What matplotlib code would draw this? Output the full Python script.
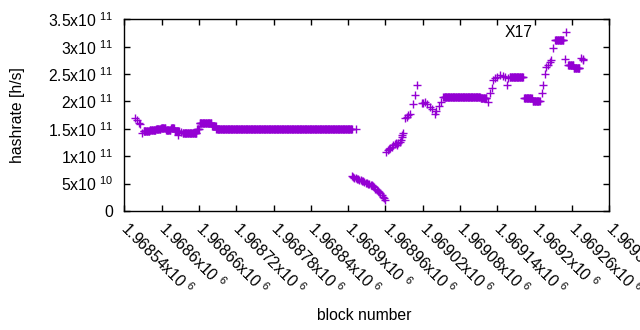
import numpy as np
import matplotlib
matplotlib.use("Agg")
import matplotlib.pyplot as plt
from matplotlib.ticker import FixedLocator, FuncFormatter

plt.rcParams['font.family'] = ['Liberation Sans', 'DejaVu Sans']
plt.rcParams['mathtext.fontset'] = 'custom'
plt.rcParams['mathtext.rm'] = 'Liberation Sans'
plt.rcParams['mathtext.default'] = 'regular'

# flat stretches: consecutive blocks sharing one value
run_start = [1968571, 1968581, 1968591, 1968599, 1968607, 1968615, 1968621, 1968634,
             1968657, 1968661, 1968681, 1968688,
             1969053, 1969113, 1969160, 1969183, 1969197, 1969233, 1969254, 1969263]
run_end = [1968580, 1968590, 1968598, 1968606, 1968614, 1968620, 1968628, 1968656,
           1968660, 1968680, 1968687, 1968906,
           1969112, 1969122, 1969181, 1969195, 1969208, 1969246, 1969262, 1969272]
run_value = [1.46e11, 1.48e11, 1.50e11, 1.52e11, 1.47e11, 1.52e11, 1.46e11, 1.42e11,
             1.50e11, 1.61e11, 1.55e11, 1.505e11,
             2.08e11, 2.065e11, 2.45e11, 2.07e11, 2.01e11, 3.12e11, 2.66e11, 2.61e11]

# scattered single blocks
single_block = [1968558, 1968560, 1968563, 1968566, 1968569, 1968627, 1968631, 1968912,
                1968907, 1968908, 1968910, 1968912, 1968914, 1968916, 1968918, 1968920,
                1968922, 1968924, 1968926, 1968928, 1968930, 1968932, 1968934, 1968936,
                1968938, 1968940, 1968942, 1968944, 1968946, 1968948, 1968950, 1968952,
                1968954, 1968956, 1968958, 1968960,
                1968961, 1968964, 1968966, 1968968, 1968970, 1968972, 1968975, 1968977,
                1968979, 1968981, 1968983, 1968985, 1968986, 1968987, 1968989,
                1968991, 1968994, 1968997, 1968999, 1969005, 1969007, 1969011,
                1969018, 1969021, 1969024, 1969027, 1969032, 1969035, 1969040, 1969042,
                1969046, 1969049,
                1969125, 1969128, 1969131, 1969133, 1969136, 1969139, 1969144, 1969149,
                1969152, 1969155, 1969157,
                1969211, 1969214, 1969216, 1969219, 1969221, 1969225, 1969227, 1969230,
                1969251, 1969248, 1969275, 1969277, 1969278]
single_value = [1.70e11, 1.66e11, 1.60e11, 1.58e11, 1.43e11, 1.38e11, 1.45e11, 1.505e11,
                6.3e10, 6.2e10, 6.1e10, 6.0e10, 5.9e10, 5.8e10, 5.7e10, 5.6e10,
                5.5e10, 5.4e10, 5.3e10, 5.2e10, 5.1e10, 5.0e10, 4.9e10, 4.8e10,
                4.7e10, 4.5e10, 4.3e10, 4.1e10, 3.9e10, 3.7e10, 3.5e10, 3.2e10,
                2.9e10, 2.6e10, 2.3e10, 2.0e10,
                1.08e11, 1.11e11, 1.13e11, 1.15e11, 1.17e11, 1.20e11, 1.23e11, 1.24e11,
                1.21e11, 1.25e11, 1.26e11, 1.30e11, 1.35e11, 1.38e11, 1.42e11,
                1.69e11, 1.72e11, 1.75e11, 1.78e11, 1.96e11, 2.11e11, 2.30e11,
                1.97e11, 1.98e11, 1.99e11, 1.95e11, 1.89e11, 1.87e11, 1.78e11, 1.83e11,
                1.92e11, 1.99e11,
                1.99e11, 2.15e11, 2.24e11, 2.39e11, 2.42e11, 2.45e11, 2.48e11, 2.46e11,
                2.45e11, 2.30e11, 2.42e11,
                2.15e11, 2.30e11, 2.51e11, 2.63e11, 2.66e11, 2.72e11, 2.75e11, 2.98e11,
                3.26e11, 2.78e11, 2.80e11, 2.78e11, 2.75e11]

x_ticks = [1968540 + 60 * i for i in range(14)]
y_ticks = [0, 5e10, 1e11, 1.5e11, 2e11, 2.5e11, 3e11, 3.5e11]

blocks = np.concatenate([np.arange(s, e + 1) for s, e in zip(run_start, run_end)] + [single_block])
values = np.concatenate([np.full(e - s + 1, v) for s, e, v in zip(run_start, run_end, run_value)] + [single_value])


def sci(v, pos=None):
    if v == 0:
        return '0'
    e = int(np.floor(np.log10(abs(v)) + 1e-9))
    m = round(v / 10 ** e, 6)
    return '%gx10 $^{%d}$' % (m, e)


fs = 11.3
fig = plt.figure(figsize=(6.4, 3.3), dpi=100)
ax = fig.add_axes([0.1942, 0.3606, 0.7578, 0.5809])

ax.plot(blocks, values, linestyle='none', marker='+', color='#9400d3',
        markersize=6, markeredgewidth=1)

ax.set_xlim(1968540, 1969320)
ax.set_ylim(0, 3.5e11)
ax.xaxis.set_major_locator(FixedLocator(x_ticks))
ax.yaxis.set_major_locator(FixedLocator(y_ticks))
ax.xaxis.set_major_formatter(FuncFormatter(sci))
ax.yaxis.set_major_formatter(FuncFormatter(sci))
ax.tick_params(direction='in', length=4, width=1, top=True, right=True,
               labelsize=fs, colors='black')
ax.tick_params(axis='y', pad=8)
ax.tick_params(axis='x', pad=10)
for lab in ax.get_xticklabels():
    lab.set_rotation(-45)
    lab.set_ha('left')
    lab.set_va('center')
    lab.set_rotation_mode('anchor')
for sp in ax.spines.values():
    sp.set_linewidth(1)

ax.text(0.812, 0.932, 'X17', transform=ax.transAxes, ha='center', va='center', fontsize=fs)

fig.text(18 / 640, 1 - 115 / 330, 'hashrate [h/s]', rotation=90, ha='center', va='center', fontsize=fs)
fig.text(364 / 640, 1 - 315 / 330, 'block number', ha='center', va='center', fontsize=fs)

fig.savefig('out.png', dpi=100)
